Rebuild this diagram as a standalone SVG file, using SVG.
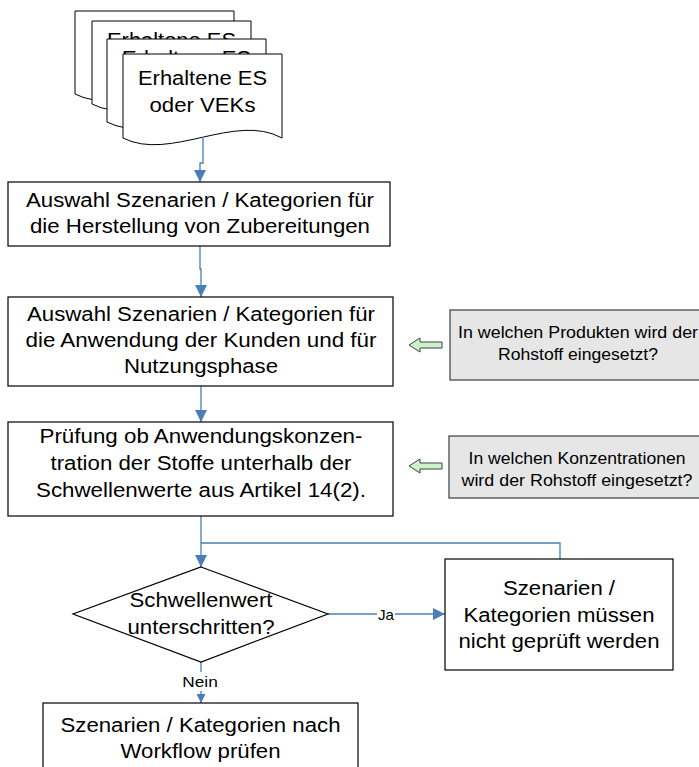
<svg xmlns="http://www.w3.org/2000/svg" width="699" height="767" viewBox="0 0 699 767">
<style>
.box{fill:#fff;stroke:#000;stroke-width:1.2}
.note{fill:#e6e6e6;stroke:#3c3c3c;stroke-width:1.2}
.doc{fill:#fff;stroke:#000;stroke-width:1}
.t{font-family:"Liberation Sans",Arial,sans-serif;font-size:20px;fill:#000;text-anchor:middle}
.ts{font-size:16.5px}
.lbl{font-size:15px}
.con{fill:none;stroke:#4a7ebb;stroke-width:1.3}
.garrow{fill:#ccf2cc;stroke:#404040;stroke-width:1}
.lblbg{fill:#fff}
</style>
<defs>
<marker id="arr" markerUnits="userSpaceOnUse" markerWidth="12" markerHeight="12" viewBox="0 0 12 12" refX="12" refY="6" orient="auto">
<path d="M0,0 L12,6 L0,12 Z" fill="#4a7ebb"/>
</marker>
<marker id="arrS" markerUnits="userSpaceOnUse" markerWidth="9" markerHeight="9" viewBox="0 0 9 9" refX="9" refY="4.5" orient="auto">
<path d="M0,0 L9,4.5 L0,9 Z" fill="#4a7ebb"/>
</marker>
</defs>

<g id="docs">
<g id="doc1">
<path class="doc" d="M75,11 H234 V94 C187,68 122,118 75,94 Z"/>
</g>
<g id="doc2">
<path class="doc" d="M92,21 H251 V104 C204,78 139,128 92,104 Z"/>
<text class="t" x="171.5" y="47" textLength="129" lengthAdjust="spacingAndGlyphs">Erhaltene ES</text>
</g>
<g id="doc3">
<path class="doc" d="M107,39 H266 V122 C219,96 154,146 107,122 Z"/>
<text class="t" x="186.5" y="65" textLength="129" lengthAdjust="spacingAndGlyphs">Erhaltene ES</text>
</g>
<g id="doc4">
<path class="doc" d="M123,54 H282 V138 C235,112 170,162 123,138 Z"/>
<text class="t" x="202.5" y="85" textLength="129" lengthAdjust="spacingAndGlyphs">Erhaltene ES</text>
<text class="t" x="202.5" y="112" textLength="106" lengthAdjust="spacingAndGlyphs">oder VEKs</text>
</g>
</g>

<g id="connectors">
<path class="con" d="M203,137 V163 H200 V182" marker-end="url(#arr)"/>
<path class="con" d="M200,246 V269 H201 V297" marker-end="url(#arr)"/>
<path class="con" d="M201,386 V422" marker-end="url(#arr)"/>
<path class="con" d="M201,516 V567" marker-end="url(#arr)"/>
<path class="con" d="M560,559 V543 H201"/>
<path class="con" d="M328,614 H445" marker-end="url(#arr)"/>
<path class="con" d="M201,662 V703" marker-end="url(#arrS)"/>
<rect class="lblbg" x="377" y="606" width="18" height="16"/>
<text class="t lbl" x="386" y="620" textLength="16" lengthAdjust="spacingAndGlyphs">Ja</text>
<rect class="lblbg" x="181" y="672" width="39" height="19"/>
<text class="t lbl" x="200" y="687" textLength="35.5" lengthAdjust="spacingAndGlyphs">Nein</text>
</g>

<g id="box1">
<rect class="box" x="8" y="182" width="382" height="64"/>
<text class="t" x="200" y="207" textLength="348" lengthAdjust="spacingAndGlyphs">Auswahl Szenarien / Kategorien für</text>
<text class="t" x="200" y="233" textLength="340" lengthAdjust="spacingAndGlyphs">die Herstellung von Zubereitungen</text>
</g>

<g id="box2">
<rect class="box" x="8" y="297" width="385" height="89"/>
<text class="t" x="201" y="321" textLength="348" lengthAdjust="spacingAndGlyphs">Auswahl Szenarien / Kategorien für</text>
<text class="t" x="201" y="347" textLength="351" lengthAdjust="spacingAndGlyphs">die Anwendung der Kunden und für</text>
<text class="t" x="201" y="373" textLength="154" lengthAdjust="spacingAndGlyphs">Nutzungsphase</text>
</g>

<g id="box3">
<rect class="box" x="8" y="422" width="385" height="94"/>
<text class="t" x="201" y="443" textLength="323" lengthAdjust="spacingAndGlyphs">Prüfung ob Anwendungskonzen-</text>
<text class="t" x="201" y="470" textLength="301" lengthAdjust="spacingAndGlyphs">tration der Stoffe unterhalb der</text>
<text class="t" x="201" y="497" textLength="330" lengthAdjust="spacingAndGlyphs">Schwellenwerte aus Artikel 14(2).</text>
</g>

<g id="noteA">
<rect class="note" x="450" y="310" width="260" height="70"/>
<text class="t ts" x="578" y="338" textLength="240" lengthAdjust="spacingAndGlyphs">In welchen Produkten wird der</text>
<text class="t ts" x="578" y="360" textLength="160" lengthAdjust="spacingAndGlyphs">Rohstoff eingesetzt?</text>
</g>
<g id="arrowA">
<polygon class="garrow" points="409,345 420,338 420,342 442,342 442,348 420,348 420,352"/>
</g>

<g id="noteB">
<rect class="note" x="449" y="436" width="260" height="62"/>
<text class="t ts" x="577" y="464" textLength="217" lengthAdjust="spacingAndGlyphs">In welchen Konzentrationen</text>
<text class="t ts" x="577" y="486" textLength="231" lengthAdjust="spacingAndGlyphs">wird der Rohstoff eingesetzt?</text>
</g>
<g id="arrowB">
<polygon class="garrow" points="409,466 420,459 420,463 442,463 442,469 420,469 420,473"/>
</g>

<g id="decision">
<polygon class="box" points="201,567 328,614 201,662 73,614"/>
<text class="t" x="201" y="607" textLength="143" lengthAdjust="spacingAndGlyphs">Schwellenwert</text>
<text class="t" x="201" y="634" textLength="147" lengthAdjust="spacingAndGlyphs">unterschritten?</text>
</g>

<g id="boxSkip">
<rect class="box" x="445" y="559" width="228" height="111"/>
<text class="t" x="559" y="595" textLength="112" lengthAdjust="spacingAndGlyphs">Szenarien /</text>
<text class="t" x="559" y="622" textLength="191" lengthAdjust="spacingAndGlyphs">Kategorien müssen</text>
<text class="t" x="559" y="648" textLength="201" lengthAdjust="spacingAndGlyphs">nicht geprüft werden</text>
</g>

<g id="boxWorkflow">
<rect class="box" x="43" y="703" width="315" height="80"/>
<text class="t" x="200.5" y="732" textLength="280" lengthAdjust="spacingAndGlyphs">Szenarien / Kategorien nach</text>
<text class="t" x="200.5" y="758" textLength="160" lengthAdjust="spacingAndGlyphs">Workflow prüfen</text>
</g>
</svg>
